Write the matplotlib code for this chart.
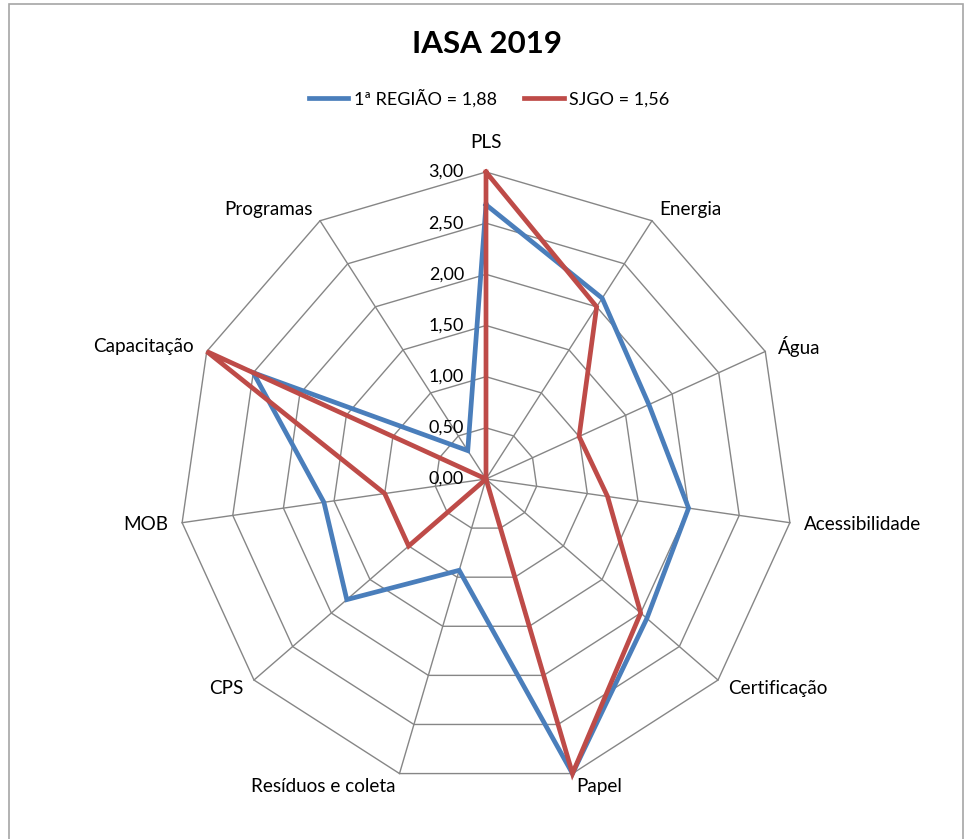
import numpy as np
import matplotlib
matplotlib.use("Agg")
import matplotlib.pyplot as plt
from matplotlib.patches import Rectangle

categories = ["PLS", "Energia", "Água", "Acessibilidade", "Certificação", "Papel",
              "Resíduos e coleta", "CPS", "MOB", "Capacitação", "Programas"]
regiao = [2.68, 2.10, 1.75, 2.00, 2.08, 3.00, 0.93, 1.80, 1.60, 2.50, 0.33]
sjgo = [3.00, 2.00, 1.00, 1.20, 2.00, 3.00, 0.00, 1.00, 1.00, 3.00, 0.00]
series_names = ["1ª REGIÃO = 1,88", "SJGO = 1,56"]
ticks = [0.0, 0.5, 1.0, 1.5, 2.0, 2.5, 3.0]
tick_labels = ["0,00", "0,50", "1,00", "1,50", "2,00", "2,50", "3,00"]
title = "IASA 2019"

plt.rcParams['font.family'] = ['Lato', 'DejaVu Sans']

W, H = 970, 839
fig = plt.figure(figsize=(W / 100, H / 100), dpi=100)
fig.patch.set_facecolor("white")

# chart border
fig.patches.append(Rectangle((9 / W, -0.01), (963 - 9) / W, (H - 4) / H + 0.01,
                             transform=fig.transFigure, fill=False,
                             edgecolor="#a6a6a6", linewidth=1.2))

cx, cy, R = 486, 479, 307
ax = fig.add_axes([(cx - R) / W, (H - cy - R) / H, 2 * R / W, 2 * R / H],
                  projection="polar")
ax.set_theta_zero_location("N")
ax.set_theta_direction(-1)
ax.set_ylim(0, 3.0)
ax.grid(False)
ax.set_xticks([])
ax.set_yticks([])
ax.spines["polar"].set_visible(False)
ax.patch.set_alpha(0)

n = len(categories)
theta = np.arange(n) * 2 * np.pi / n
theta_c = np.append(theta, theta[0])

grid_col = "#868686"
for t in ticks[1:]:
    ax.plot(theta_c, [t] * (n + 1), color=grid_col, lw=1.0, zorder=1, clip_on=False)
for th in theta:
    ax.plot([th, th], [0, ticks[-1]], color=grid_col, lw=1.0, zorder=1, clip_on=False)

colors = ["#4a7ebb", "#be4b48"]
for vals, col, name in zip([regiao, sjgo], colors, series_names):
    v = list(vals) + [vals[0]]
    ax.plot(theta_c, v, color=col, lw=3.4, label=name, zorder=3, clip_on=False,
            solid_joinstyle="miter")

# radial tick labels
for t, lab in zip(ticks, tick_labels):
    ax.annotate(lab, xy=(0, t), xytext=(-22, 0), textcoords="offset pixels",
                ha="right", va="center", fontsize=13, color="black")

# category labels
for th, lab in zip(theta, categories):
    s, c = np.sin(th), np.cos(th)
    if abs(s) < 0.1 and c > 0:
        ha, off = "center", (0, 29)
    else:
        ha = "left" if s > 0 else "right"
        off = (14 * s, 13 * c)
    ax.annotate(lab, xy=(th, ticks[-1]), xytext=off, textcoords="offset pixels",
                ha=ha, va="center", fontsize=13.6, color="black", annotation_clip=False)

fig.text(487 / W, 1 - 44 / H, title, ha="center", va="center",
         fontsize=22.5, fontweight="bold")

handles, labels = ax.get_legend_handles_labels()
fig.legend(handles, labels, loc="center", bbox_to_anchor=(489 / W, 1 - 98 / H),
           ncol=2, frameon=False, fontsize=13, handlelength=2.2,
           handletextpad=0.3, columnspacing=1.5)

fig.savefig("out.png", dpi=100, facecolor="white")
